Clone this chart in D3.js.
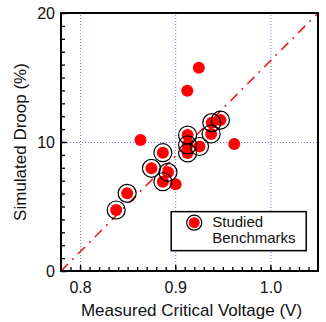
<!DOCTYPE html>
<html>
<head>
<meta charset="UTF-8">
<script src="https://d3js.org/d3.v7.min.js"></script>
<style>
  body { margin: 0; background: #fff; }
  svg text { font-family: "Liberation Sans", Arial, Helvetica, sans-serif; fill: #111; }
  .axis .domain { stroke: none; }
  .axis line { stroke: #000; stroke-width: 1.3; }
  .grid line { stroke: #7777ff; stroke-width: 1; stroke-dasharray: 1,2; }
  .grid .domain { stroke: none; }
</style>
</head>
<body>
<svg id="chart" width="326" height="322"></svg>
<script>
  // benchmarks: measured critical voltage (V) vs simulated droop (%)
  const voltage = [0.838, 0.8495, 0.8635, 0.875, 0.887, 0.887, 0.8924, 0.9004, 0.9127,
                   0.9248, 0.913, 0.913, 0.913, 0.9255, 0.9377, 0.9384, 0.9475, 0.962];
  const droop   = [4.73, 6.02, 10.16, 7.96, 9.17, 6.92, 7.65, 6.72, 13.98,
                   15.76, 10.54, 9.77, 9.15, 9.65, 10.62, 11.5, 11.7, 9.84];
  const studied = [1, 1, 0, 1, 1, 1, 1, 0, 0,
                   0, 1, 1, 1, 1, 1, 1, 1, 0];

  const xTicks = [0.8, 0.9, 1.0];
  const yTicks = [0, 10, 20];
  const xDomain = [0.78, 1.05];
  const yDomain = [0, 20];
  const legendLabel = ["Studied", "Benchmarks"];

  const svg = d3.select("svg#chart");
  const margin = {top: 13, right: 8, bottom: 51, left: 61};
  const width = +svg.attr("width") - margin.left - margin.right;
  const height = +svg.attr("height") - margin.top - margin.bottom;

  const x = d3.scaleLinear().domain(xDomain).range([0, width]);
  const y = d3.scaleLinear().domain(yDomain).range([height, 0]);

  const plot = svg.append("g")
    .attr("transform", "translate(" + margin.left + "," + margin.top + ")");

  // gridlines
  plot.append("g").attr("class", "grid")
    .attr("transform", "translate(0," + height + ")")
    .call(d3.axisBottom(x).tickValues(xTicks).tickFormat("").tickSize(-height));
  plot.append("g").attr("class", "grid")
    .call(d3.axisLeft(y).tickValues([10]).tickFormat("").tickSize(-width));

  // diagonal
  plot.append("line")
    .attr("x1", x(xDomain[0])).attr("y1", y(yDomain[0]))
    .attr("x2", x(xDomain[1])).attr("y2", y(yDomain[1]))
    .attr("stroke", "#ee1111").attr("stroke-width", 1.5)
    .attr("stroke-dasharray", "10,6,2,6");

  const data = voltage.map((v, i) => ({v: v, d: droop[i], s: studied[i]}));

  plot.selectAll("circle.dot").data(data).enter()
    .append("circle").attr("class", "dot")
    .attr("cx", d => x(d.v)).attr("cy", d => y(d.d))
    .attr("r", 6).attr("fill", "#ff0000");

  plot.selectAll("circle.ring").data(data.filter(d => d.s)).enter()
    .append("circle").attr("class", "ring")
    .attr("cx", d => x(d.v)).attr("cy", d => y(d.d))
    .attr("r", 9).attr("fill", "none")
    .attr("stroke", "#000").attr("stroke-width", 1.2);

  // minor ticks (inward)
  const xMinor = d3.range(79, 105).map(k => k / 100);
  const yMinor = d3.range(0, 21);
  plot.append("g").attr("class", "axis")
    .attr("transform", "translate(0," + height + ")")
    .call(d3.axisBottom(x).tickValues(xMinor).tickFormat("").tickSize(-4));
  plot.append("g").attr("class", "axis")
    .call(d3.axisLeft(y).tickValues(yMinor).tickFormat("").tickSize(-4));

  // major ticks + labels
  const xAxis = plot.append("g").attr("class", "axis")
    .attr("transform", "translate(0," + height + ")")
    .call(d3.axisBottom(x).tickValues(xTicks).tickFormat(d3.format(".1f"))
      .tickSizeInner(-6).tickSizeOuter(0).tickPadding(11));
  xAxis.selectAll("text").attr("font-size", 16).attr("fill", "#111");

  const yAxis = plot.append("g").attr("class", "axis")
    .call(d3.axisLeft(y).tickValues(yTicks).tickFormat(d3.format("d"))
      .tickSizeInner(-6).tickSizeOuter(0).tickPadding(6));
  yAxis.selectAll("text").attr("font-size", 16).attr("fill", "#111");

  // frame
  plot.append("rect")
    .attr("width", width).attr("height", height)
    .attr("fill", "none").attr("stroke", "#000").attr("stroke-width", 2);

  // legend
  const legend = plot.append("g")
    .attr("transform", "translate(" + (x(0.9) - 4) + "," + (y(4.6)) + ")");
  legend.append("rect")
    .attr("width", 135).attr("height", 39)
    .attr("fill", "#fff").attr("stroke", "#000").attr("stroke-width", 1.5);
  legend.append("circle").attr("cx", 23).attr("cy", 11).attr("r", 5.5).attr("fill", "#ff0000");
  legend.append("circle").attr("cx", 23).attr("cy", 11).attr("r", 7.5)
    .attr("fill", "none").attr("stroke", "#000").attr("stroke-width", 1.2);
  legend.selectAll("text").data(legendLabel).enter()
    .append("text")
    .attr("x", 41)
    .attr("y", (d, i) => 15.5 + i * 16)
    .attr("font-size", 15)
    .text(d => d);

  // axis titles
  svg.append("text")
    .attr("x", margin.left + width / 2 + 2).attr("y", 316)
    .attr("text-anchor", "middle").attr("font-size", 17)
    .text("Measured Critical Voltage (V)");
  svg.append("text")
    .attr("transform", "translate(26," + (margin.top + height / 2) + ") rotate(-90)")
    .attr("text-anchor", "middle").attr("font-size", 17)
    .text("Simulated Droop (%)");
</script>
</body>
</html>
